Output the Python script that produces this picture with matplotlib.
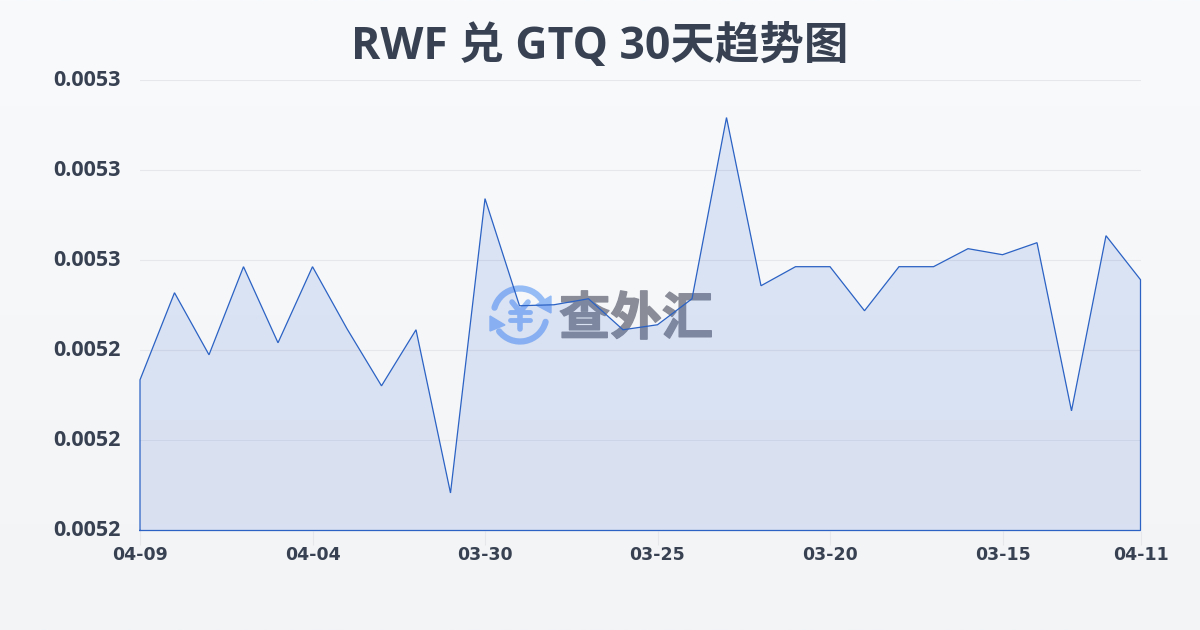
import numpy as np
import matplotlib.pyplot as plt
import matplotlib.patheffects as pe
from matplotlib.patches import Arc, Polygon
from matplotlib.transforms import ScaledTranslation

plt.rcParams['font.family'] = ['DejaVu Sans', 'Noto Sans CJK SC']

title = 'RWF 兑 GTQ 30天趋势图'
values = [0.00523344, 0.00525278, 0.00523900, 0.00525856, 0.00524167, 0.00525856,
          0.00524478, 0.00523211, 0.00524456, 0.00520833, 0.00527367, 0.00524989,
          0.00525011, 0.00525144, 0.00524456, 0.00524567, 0.00525144, 0.00529167,
          0.00525433, 0.00525856, 0.00525856, 0.00524878, 0.00525856, 0.00525856,
          0.00526256, 0.00526122, 0.00526389, 0.00522656, 0.00526544, 0.00525567]
x_ticks = [0, 5, 10, 15, 20, 25, 29]
x_labels = ['04-09', '04-04', '03-30', '03-25', '03-20', '03-15', '04-11']
y_ticks = [0.0052, 0.00522, 0.00524, 0.00526, 0.00528, 0.0053]
y_labels = ['0.0052', '0.0052', '0.0052', '0.0053', '0.0053', '0.0053']

W, H = 1200, 630
fig = plt.figure(figsize=(12, 6.3), dpi=100)

# background gradient, watermark goes on the same layer
bg = fig.add_axes([0, 0, 1, 1], zorder=0)
grad = np.linspace(0, 1, 256).reshape(-1, 1)
top = np.array([248, 250, 252]) / 255
bottom = np.array([242, 244, 246]) / 255
bg.imshow(top + (bottom - top) * grad[..., None], extent=[0, W, H, 0], aspect='auto')
bg.set_xlim(0, W)
bg.set_ylim(H, 0)
bg.axis('off')

# logo, y axis is flipped here so arc angles run clockwise on screen
blue = '#96bcf6'
cx, cy = 520, 315
bg.add_patch(Arc((cx, cy), 53, 53, theta1=196, theta2=329, color=blue, lw=4.5, capstyle='round'))
bg.add_patch(Arc((cx, cy), 53, 53, theta1=15, theta2=142, color=blue, lw=4.5, capstyle='round'))
bg.add_patch(Polygon([[551, 296], [551, 313], [536, 305]], color=blue))
bg.add_patch(Polygon([[490, 316], [490, 331], [505, 325]], color=blue))
bg.plot([cx - 8, cx, cx + 8], [cy - 13, cy - 3, cy - 13], color=blue, lw=4, solid_capstyle='round')
bg.plot([cx, cx], [cy - 3, cy + 14], color=blue, lw=4, solid_capstyle='round')
bg.plot([cx - 10, cx + 10], [cy - 3, cy - 3], color=blue, lw=3.5, solid_capstyle='round')
bg.plot([cx - 10, cx + 10], [cy + 5, cy + 5], color=blue, lw=3.5, solid_capstyle='round')
wm = bg.text(636, 319, '查外汇', fontsize=37, fontweight='bold', color='#8a8d98', ha='center', va='center',
             family=['Noto Sans CJK SC'])
wm.set_path_effects([pe.withStroke(linewidth=1, foreground='#8a8d98')])

ax = fig.add_axes([140 / W, 1 - 530.5 / H, 1000.5 / W, 450.5 / H], zorder=1)
ax.patch.set_alpha(0)
xs = np.arange(len(values))
ax.fill_between(xs, values, 0.0052, facecolor='#2a5fd0', alpha=0.13, lw=0)
ax.plot(np.r_[xs[0], xs, xs[-1], xs[0]], np.r_[0.0052, values, 0.0052, 0.0052],
        color='#2b62c4', lw=0.9, solid_joinstyle='miter', clip_on=False)

ax.set_xlim(0, 29)
ax.set_ylim(0.0052, 0.0053)
ax.set_xticks(x_ticks)
ax.set_xticklabels(x_labels, fontsize=12.5, fontweight='bold', color='#374151')
ax.set_yticks(y_ticks)
ax.set_yticklabels(y_labels, fontsize=15.5, fontweight='bold', color='#374151', family=['Open Sans'])
ax.tick_params(axis='x', length=10, width=0.8, color='#e5e7eb', pad=1)
ax.tick_params(axis='y', length=0, pad=14)
ax.grid(axis='y', color='#e5e7eb', lw=0.8)
ax.set_axisbelow(True)
for s in ax.spines.values():
    s.set_visible(False)

# nudge y labels up a bit
for t in ax.get_yticklabels():
    t.set_transform(t.get_transform() + ScaledTranslation(0, 1.5 / 72, fig.dpi_scale_trans))

fig.text(0.5, 1 - 47 / H, title, fontsize=32, fontweight='bold', color='#374151', ha='center', va='center',
         family=['Open Sans', 'Noto Sans CJK SC'])

fig.savefig('out.png', dpi=100)
